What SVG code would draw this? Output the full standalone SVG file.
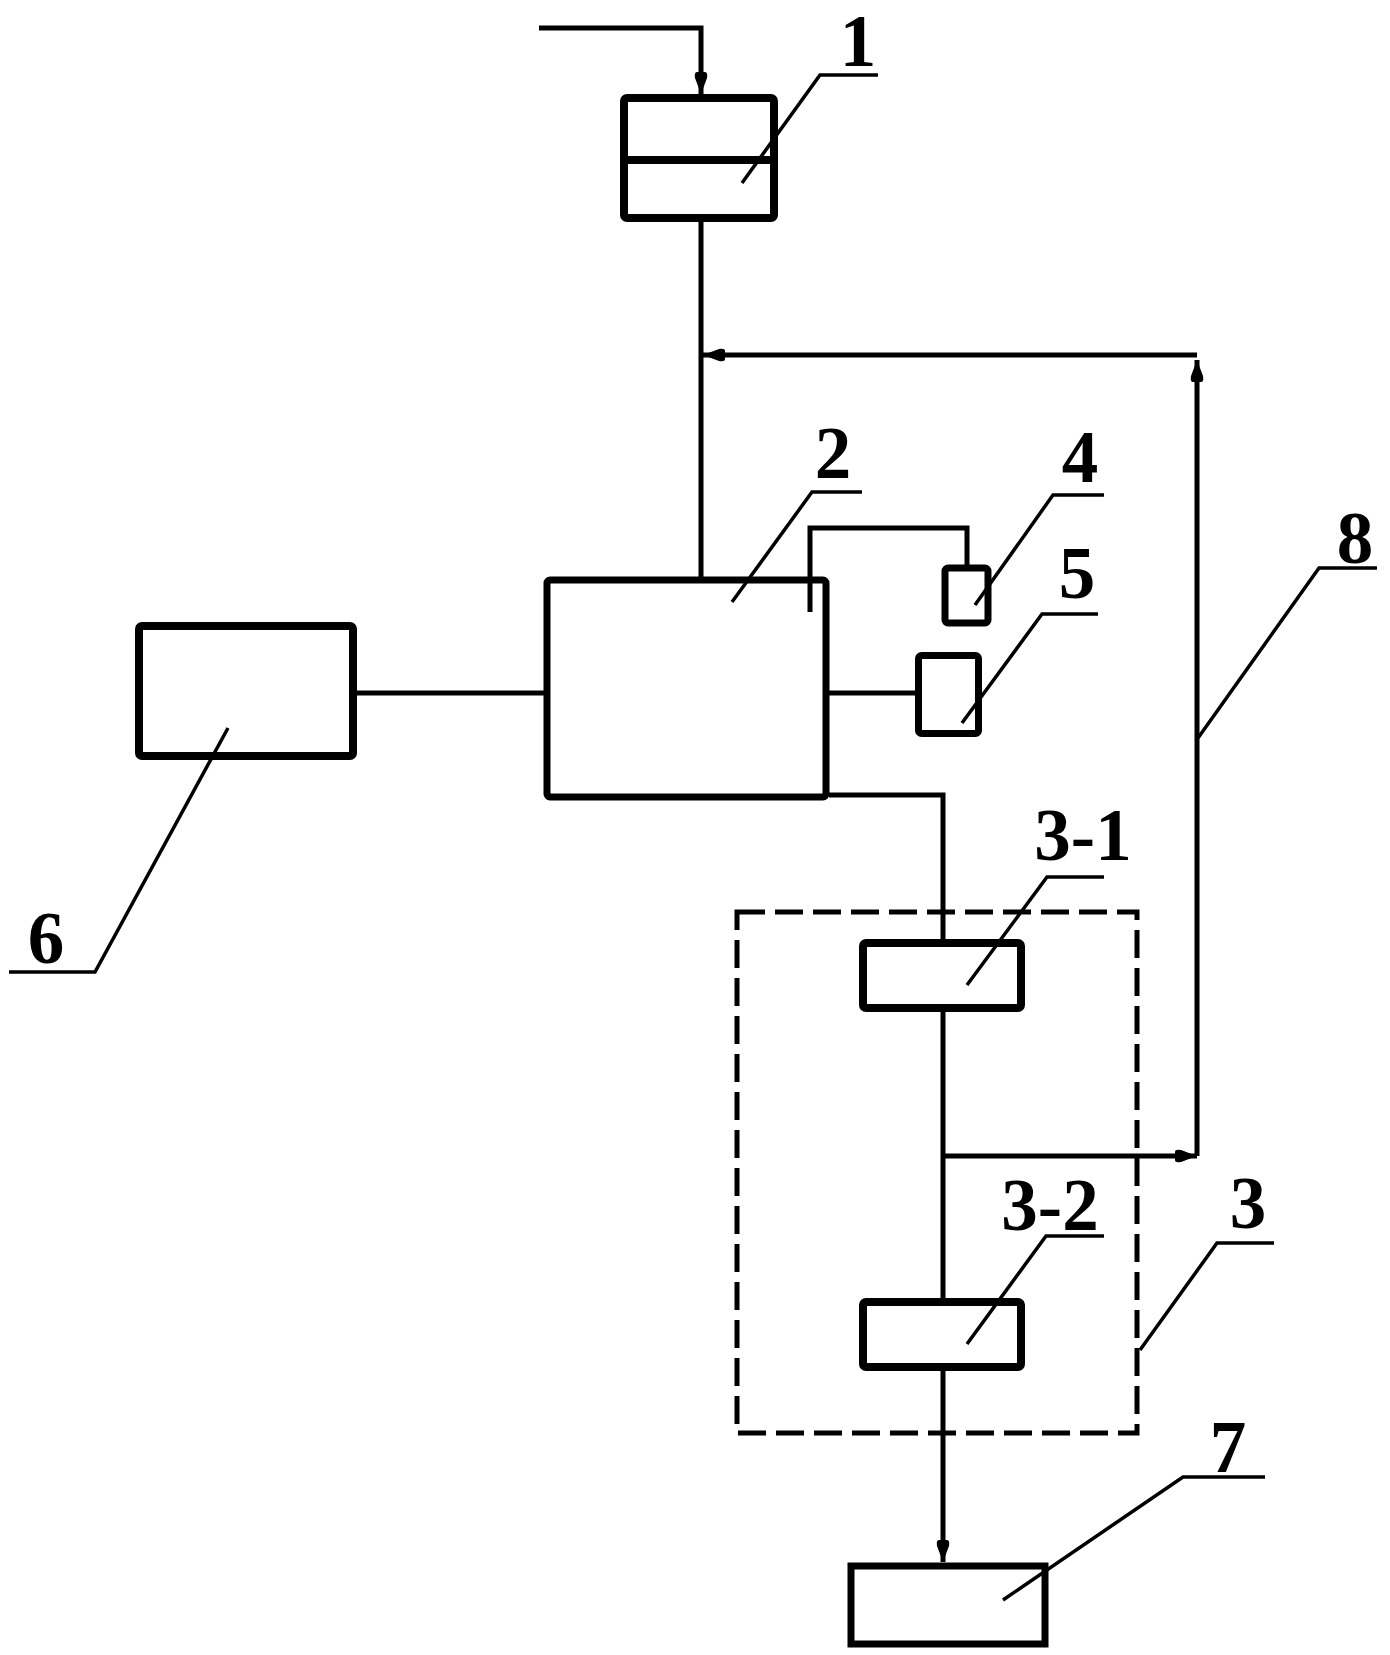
<svg xmlns="http://www.w3.org/2000/svg" width="1390" height="1655" viewBox="0 0 1390 1655">
<defs>
<style>
.box{fill:none;stroke:#000;stroke-width:7;}
.thick{stroke-width:8;}
.ln{fill:none;stroke:#000;stroke-width:5;}
.div{fill:none;stroke:#000;stroke-width:8;}
.ld{fill:none;stroke:#000;stroke-width:3.5;}
.dash{fill:none;stroke:#000;stroke-width:5;stroke-dasharray:28 10;}
.lbl{font-family:"Liberation Serif","Times New Roman",serif;font-weight:bold;font-size:73px;fill:#000;text-anchor:middle;}
</style>
<marker id="arr" viewBox="0 0 22 14" markerWidth="22" markerHeight="14" refX="22" refY="7" orient="auto" markerUnits="userSpaceOnUse">
<path d="M0,3 Q0,0 6,1 L22,7 L6,13 Q0,14 0,11 z" fill="#000"/>
</marker>
</defs>
<rect width="1390" height="1655" fill="#fff"/>

<g id="connectors">
<polyline class="ln" points="539,28 701,28 701,94" marker-end="url(#arr)"/>
<line class="ln" x1="701" y1="222" x2="701" y2="577"/>
<line class="ln" x1="357" y1="693" x2="544" y2="693"/>
<line class="ln" x1="829" y1="693" x2="915" y2="693"/>
<polyline class="ln" points="810,612 810,528 967,528 967,565"/>
<polyline class="ln" points="829,795 943,795 943,939"/>
<line class="ln" x1="943" y1="1012" x2="943" y2="1298"/>
<line class="ln" x1="943" y1="1371" x2="943" y2="1562" marker-end="url(#arr)"/>
<line class="ln" x1="943" y1="1156" x2="1197" y2="1156" marker-end="url(#arr)"/>
<line class="ln" x1="1197" y1="1156" x2="1197" y2="360" marker-end="url(#arr)"/>
<line class="ln" x1="1197" y1="355" x2="703" y2="355" marker-end="url(#arr)"/>
</g>

<g id="node-1">
<rect class="box thick" x="624" y="98" width="150" height="120" rx="3"/>
<line class="div" x1="624" y1="160" x2="774" y2="160"/>
<polyline class="ld" points="742,183 820,75 878,75"/>
<text class="lbl" x="858" y="66">1</text>
</g>

<g id="node-2">
<rect class="box" x="547" y="580" width="279" height="217" rx="3"/>
<polyline class="ld" points="732,602 812,492 862,492"/>
<text class="lbl" x="833" y="478">2</text>
</g>

<g id="node-4">
<rect class="box" x="945" y="568" width="43" height="55" rx="3"/>
<polyline class="ld" points="975,605 1053,495 1104,495"/>
<text class="lbl" x="1080" y="482">4</text>
</g>

<g id="node-5">
<rect class="box" x="918.5" y="655.5" width="60" height="78" rx="3"/>
<polyline class="ld" points="962,723 1042,614 1098,614"/>
<text class="lbl" x="1077" y="598">5</text>
</g>

<g id="node-6">
<rect class="box thick" x="139" y="626" width="214" height="130" rx="3"/>
<polyline class="ld" points="228,728 95,972 9,972"/>
<text class="lbl" x="46" y="963">6</text>
</g>

<g id="node-3">
<rect class="dash" x="737" y="912" width="400" height="521"/>
<polyline class="ld" points="1140,1350 1217,1243 1274,1243"/>
<text class="lbl" x="1248" y="1228">3</text>
</g>

<g id="node-3-1">
<rect class="box thick" x="863" y="943" width="158" height="65" rx="3"/>
<polyline class="ld" points="967,985 1047,877 1104,877"/>
<text class="lbl" x="1083" y="860">3-1</text>
</g>

<g id="node-3-2">
<rect class="box thick" x="863" y="1302" width="158" height="65" rx="3"/>
<polyline class="ld" points="967,1344 1046,1236 1104,1236"/>
<text class="lbl" x="1050" y="1230">3-2</text>
</g>

<g id="node-7">
<rect class="box" x="851" y="1566" width="194" height="78"/>
<polyline class="ld" points="1003,1600 1183,1477 1265,1477"/>
<text class="lbl" x="1228" y="1472">7</text>
</g>

<g id="node-8">
<polyline class="ld" points="1198,738 1319,568 1377,568"/>
<text class="lbl" x="1355" y="563">8</text>
</g>
</svg>
